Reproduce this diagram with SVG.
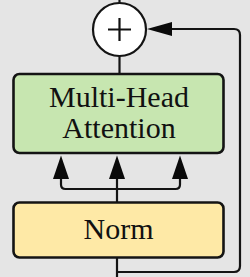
<svg xmlns="http://www.w3.org/2000/svg" width="250" height="277" viewBox="0 0 250 277">
  <style>
    .box { stroke: #141414; stroke-width: 2.6; }
    .lbl { font-family: "Liberation Serif", "Times New Roman", serif; font-size: 30px; fill: #111; text-anchor: middle; }
    .ln { fill: none; stroke: #141414; stroke-width: 2.2; }
    .ah { fill: #0a0a0a; stroke: none; }
  </style>
  <rect x="0" y="0" width="250" height="277" fill="#e5e5e5"/>
  <g id="connectors">
    <path class="ln" d="M119.5,0 V3"/>
    <path class="ln" d="M119.5,56 V74"/>
    <path class="ln" d="M117,202 V178"/>
    <path class="ln" d="M61,178 V184.5 Q61,189 65.5,189 H175.5 Q180,189 180,184.5 V178"/>
    <polygon class="ah" points="61,155.5 53,179 69,179"/>
    <polygon class="ah" points="117,155.5 109,179 125,179"/>
    <polygon class="ah" points="180,155.5 172,179 188,179"/>
    <path class="ln" d="M117,258 V277"/>
    <path class="ln" d="M117,272 H234 Q240,272 240,266 V35 Q240,29 234,29 H170"/>
    <polygon class="ah" points="147,29 172,22 172,36"/>
  </g>
  <g id="add">
    <circle cx="119.5" cy="29.5" r="26.5" fill="#ffffff" stroke="#141414" stroke-width="2.2"/>
    <path d="M108,29.5 H131 M119.5,18 V41" stroke="#111" stroke-width="2.2" fill="none"/>
  </g>
  <g id="mha">
    <rect class="box" x="13.5" y="74" width="210" height="79" rx="6" fill="#c7e6b0"/>
    <text class="lbl" x="119" y="107">Multi-Head</text>
    <text class="lbl" x="119" y="138">Attention</text>
  </g>
  <g id="norm">
    <rect class="box" x="13.5" y="202.5" width="210" height="55" rx="6" fill="#fee9a6"/>
    <text class="lbl" x="118.5" y="239">Norm</text>
  </g>
</svg>
